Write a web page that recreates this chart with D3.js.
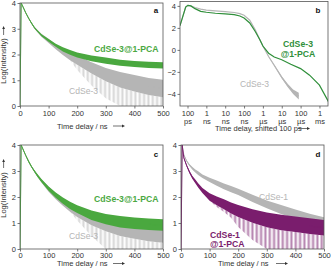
<!DOCTYPE html>
<html><head><meta charset="utf-8">
<script src="https://cdn.jsdelivr.net/npm/d3@7"></script>
<style>body{margin:0;background:#fff}svg{display:block}</style>
</head><body><svg id="c" width="331" height="272"></svg>
<script>
// ---------- DATA ----------
const linTicks = [0, 100, 200, 300, 400, 500];
const linYTicks = [0, 1, 2, 3, 4];
const logYTicks = [-4, -2, 0, 2, 4];
const logXTicks = [1e-10, 1e-9, 1e-8, 1e-7, 1e-6, 1e-5, 1e-4, 1e-3];
const logXLabels = [["100","ps"],["1","ns"],["10","ns"],["100","ns"],["1","µs"],["10","µs"],["100","µs"],["1","ms"]];

// time axis (ns) for panels a, c, d
const tNs = [0, 4, 10, 20, 30, 40, 50, 60, 75, 100, 125, 150, 175, 200, 250, 300, 350, 400, 450, 500];

// panel a
const aGreen      = [0, 4.0, 3.86, 3.62, 3.41, 3.22, 3.05, 2.92, 2.75, 2.55, 2.36, 2.2, 2.08, 1.98, 1.85, 1.76, 1.68, 1.63, 1.6, 1.58];
const aGreenNoise = [0, 0, 0.02, 0.02, 0.02, 0.03, 0.03, 0.03, 0.04, 0.05, 0.06, 0.08, 0.09, 0.1, 0.11, 0.12, 0.12, 0.12, 0.12, 0.12];
const aGray       = [0, 4.0, 3.86, 3.62, 3.41, 3.22, 3.05, 2.92, 2.75, 2.53, 2.3, 2.1, 1.93, 1.78, 1.48, 1.22, 1.02, 0.88, 0.76, 0.68];
const aGrayNoise  = [0, 0, 0.02, 0.02, 0.02, 0.03, 0.04, 0.05, 0.06, 0.08, 0.1, 0.12, 0.15, 0.18, 0.22, 0.26, 0.3, 0.32, 0.33, 0.34];
const aGrayFloor  = [0, 4.0, 3.84, 3.6, 3.39, 3.19, 3.01, 2.87, 2.69, 2.45, 2.2, 1.98, 1.78, 1.4, 0.8, 0.3, 0, 0, 0, 0];

// panel c
const cGreen      = [0, 4.0, 3.85, 3.6, 3.37, 3.17, 3.0, 2.84, 2.63, 2.32, 2.07, 1.86, 1.68, 1.53, 1.3, 1.15, 1.05, 0.99, 0.95, 0.92];
const cGreenNoise = [0, 0, 0.02, 0.02, 0.03, 0.03, 0.04, 0.05, 0.06, 0.08, 0.1, 0.12, 0.14, 0.15, 0.18, 0.2, 0.22, 0.22, 0.22, 0.22];
const cGray       = [0, 4.0, 3.85, 3.6, 3.37, 3.17, 3.0, 2.84, 2.62, 2.3, 2.03, 1.8, 1.6, 1.43, 1.15, 0.95, 0.8, 0.7, 0.62, 0.57];
const cGrayNoise  = [0, 0, 0.02, 0.02, 0.03, 0.03, 0.04, 0.05, 0.06, 0.1, 0.12, 0.14, 0.17, 0.2, 0.24, 0.27, 0.3, 0.31, 0.32, 0.33];
const cGrayFloor  = [0, 4.0, 3.83, 3.58, 3.34, 3.14, 2.96, 2.79, 2.56, 2.2, 1.91, 1.66, 1.43, 1.1, 0.5, 0, 0, 0, 0, 0];

// panel d
const dGray        = [0, 4.0, 3.62, 3.38, 3.22, 3.1, 3.0, 2.92, 2.8, 2.66, 2.53, 2.41, 2.3, 2.2, 1.95, 1.72, 1.52, 1.34, 1.17, 1.02];
const dGrayNoise   = [0, 0, 0.02, 0.03, 0.04, 0.05, 0.06, 0.07, 0.07, 0.08, 0.1, 0.11, 0.12, 0.12, 0.14, 0.15, 0.17, 0.18, 0.19, 0.2];
const dPurple      = [0, 4.0, 3.5, 3.2, 2.95, 2.75, 2.6, 2.45, 2.25, 2.0, 1.85, 1.72, 1.58, 1.46, 1.27, 1.12, 1.02, 0.95, 0.88, 0.82];
const dPurpleNoise = [0, 0, 0.03, 0.04, 0.05, 0.06, 0.07, 0.08, 0.1, 0.14, 0.17, 0.19, 0.21, 0.23, 0.26, 0.28, 0.3, 0.3, 0.3, 0.3];
const dPurpleFloor = [0, 4.0, 3.47, 3.16, 2.9, 2.69, 2.53, 2.37, 2.15, 1.86, 1.62, 1.42, 1.2, 0.85, 0.35, 0, 0, 0, 0, 0];

// panel b (time in s, shifted 100 ps)
const bGreenT = [4e-11, 8e-11, 1.05e-10, 1.5e-10, 2.5e-10, 5e-10, 1e-9, 3e-9, 1e-8, 3e-8, 6e-8, 1e-7, 2e-7, 4e-7, 7e-7, 1e-6, 2e-6, 4e-6, 1e-5, 3e-5, 1e-4, 3e-4, 1e-3, 3e-3];
const bGreen  = [2.2, 3.9, 4.05, 4.0, 3.75, 3.5, 3.42, 3.33, 3.28, 3.2, 3.08, 2.9, 2.45, 1.65, 0.9, 0.35, -0.3, -0.65, -0.9, -1.3, -1.7, -2.3, -3.2, -4.7];
const bGrayT  = [4e-11, 8e-11, 1.05e-10, 1.5e-10, 2.5e-10, 5e-10, 1e-9, 3e-9, 1e-8, 3e-8, 6e-8, 1e-7, 2e-7, 4e-7, 7e-7, 1e-6, 2e-6, 4e-6, 1e-5, 2e-5, 4e-5, 8e-5];
const bGray   = [2.2, 3.9, 4.05, 4.0, 3.85, 3.7, 3.62, 3.55, 3.48, 3.4, 3.3, 3.15, 2.7, 1.8, 0.9, 0.35, -0.6, -1.4, -2.5, -3.2, -3.8, -4.2];
const bGrayNoise = [0, 0, 0, 0, 0, 0, 0, 0, 0, 0, 0, 0, 0, 0, 0, 0, 0.02, 0.05, 0.1, 0.15, 0.2, 0.3];

// ---------- DRAWING ----------
const FONT = '"Liberation Sans", Arial, Helvetica, sans-serif';
const AX = '#555', TXT = '#333';
const GREEN = '#4aa83f', GREEN_B = '#2f8f3a', GRAY = '#b5b5b5', PURPLE = '#7a1d6d';
const svg = d3.select('#c');
const defs = svg.append('defs');
let clipN = 0;

// fine vertical-stripe fills to render the sparse noise spikes
function stripes(color) {
  const id = 'st' + color.slice(1);
  if (defs.select('#' + id).empty()) {
    const p = defs.append('pattern').attr('id', id).attr('patternUnits', 'userSpaceOnUse')
      .attr('width', 1.3).attr('height', 4);
    p.append('rect').attr('x', 0).attr('y', 0).attr('width', 0.6).attr('height', 4).attr('fill', color);
  }
  return `url(#${id})`;
}

function rows(t, m, n, f) { return t.map((v, i) => ({t: v, m: m[i], n: n ? n[i] : 0, f: f ? f[i] : null})); }

function trace(g, x, y, data, color, lw) {
  if (data[0].f !== null) {
    g.append('path').datum(data)
      .attr('d', d3.area().x(d => x(d.t)).y0(d => y(d.f)).y1(d => y(d.m - d.n)))
      .attr('fill', stripes(color)).attr('opacity', 0.6);
  }
  g.append('path').datum(data)
    .attr('d', d3.area().x(d => x(d.t)).y0(d => y(d.m - d.n)).y1(d => y(d.m + d.n)))
    .attr('fill', color);
  g.append('path').datum(data)
    .attr('d', d3.line().x(d => x(d.t)).y(d => y(d.m)))
    .attr('fill', 'none').attr('stroke', color).attr('stroke-width', lw || 1);
}

function styleAxis(sel) {
  sel.select('.domain').remove();
  sel.selectAll('.tick line').attr('stroke', AX).attr('stroke-width', 0.8);
  sel.selectAll('.tick text').attr('font-family', FONT).attr('font-size', 7.5).attr('fill', TXT);
}

function label(txt, x, yb, color, size, weight, anchor) {
  svg.append('text').attr('x', x).attr('y', yb).text(txt)
    .attr('font-family', FONT).attr('font-size', size).attr('font-weight', weight || 'normal')
    .attr('fill', color).attr('text-anchor', anchor || 'start');
}

function arrowRight(x, y, len) {
  svg.append('path').attr('d', `M${x},${y}H${x+len-2}`).attr('stroke', TXT).attr('stroke-width', 0.7);
  svg.append('path').attr('d', `M${x+len},${y}L${x+len-3},${y-1.4}L${x+len-3},${y+1.4}Z`).attr('fill', TXT);
}
function arrowUp(x, y, len) {
  svg.append('path').attr('d', `M${x},${y}V${y-len+2}`).attr('stroke', TXT).attr('stroke-width', 0.7);
  svg.append('path').attr('d', `M${x},${y-len}L${x-1.4},${y-len+3}L${x+1.4},${y-len+3}Z`).attr('fill', TXT);
}

function clip(x0, y0, x1, y1) {
  const id = 'cl' + (clipN++);
  svg.append('clipPath').attr('id', id).append('rect').attr('x', x0).attr('y', y0).attr('width', x1 - x0).attr('height', y1 - y0);
  return svg.append('g').attr('clip-path', `url(#${id})`);
}

function frame(x0, y0, x1, y1) {
  svg.append('rect').attr('x', x0).attr('y', y0).attr('width', x1 - x0).attr('height', y1 - y0)
    .attr('fill', 'none').attr('stroke', AX).attr('stroke-width', 0.8);
}

function linPanel(p) {
  const x = d3.scaleLinear().domain([0, 500]).range([p.x0, p.x1]);
  const y = d3.scaleLinear().domain([0, 4]).range([p.yb, p.yt]);
  const g = clip(p.x0, p.yt, p.x1, p.yb);
  p.traces.forEach(tr => trace(g, x, y, tr.data, tr.color, 1));
  styleAxis(svg.append('g').attr('transform', `translate(0,${p.yb})`)
    .call(d3.axisBottom(x).tickValues(linTicks).tickSize(2.5).tickPadding(p.xpad)));
  styleAxis(svg.append('g').attr('transform', `translate(${p.x0},0)`)
    .call(d3.axisLeft(y).tickValues(linYTicks).tickFormat(d3.format('d')).tickSize(2.5).tickPadding(1.5)));
  frame(p.x0, p.yt, p.x1, p.yb);
  return {x, y};
}

// panel a
linPanel({x0: 20, x1: 163, yt: 3, yb: 106, xpad: 2.5, traces: [
  {data: rows(tNs, aGray, aGrayNoise, aGrayFloor), color: GRAY},
  {data: rows(tNs, aGreen, aGreenNoise), color: GREEN}
]});
label('CdSe-3@1-PCA', 94, 51.5, GREEN, 8.7, 'bold');
label('CdSe-3', 69, 93.5, GRAY, 8.6);
label('a', 156, 12.5, '#111', 8, 'bold', 'middle');
label('Time delay / ns', 57, 128.5, TXT, 7.5);
arrowRight(113, 126, 12);
svg.append('text').attr('transform', 'translate(6,61) rotate(-90)').attr('text-anchor', 'middle')
  .attr('font-family', FONT).attr('font-size', 7.5).attr('fill', TXT).text('Log(Intensity)');
arrowUp(3.6, 35, 9);

// panel c
linPanel({x0: 20, x1: 163, yt: 145, yb: 249, xpad: 0.7, traces: [
  {data: rows(tNs, cGray, cGrayNoise, cGrayFloor), color: GRAY},
  {data: rows(tNs, cGreen, cGreenNoise), color: GREEN}
]});
label('CdSe-3@1-PCA', 94, 202, GREEN, 8.7, 'bold');
label('CdSe-3', 69, 238.5, GRAY, 8.6);
label('c', 156, 156.5, '#111', 8, 'bold', 'middle');
label('Time delay / ns', 57, 266, TXT, 7.5);
arrowRight(113, 263.5, 12);
svg.append('text').attr('transform', 'translate(6,195) rotate(-90)').attr('text-anchor', 'middle')
  .attr('font-family', FONT).attr('font-size', 7.5).attr('fill', TXT).text('Log(Intensity)');
arrowUp(3.6, 168, 9);

// panel d
linPanel({x0: 181, x1: 324, yt: 145, yb: 249, xpad: 0.7, traces: [
  {data: rows(tNs, dGray, dGrayNoise), color: GRAY},
  {data: rows(tNs, dPurple, dPurpleNoise, dPurpleFloor), color: PURPLE}
]});
label('CdSe-1', 259, 199.5, GRAY, 8.6);
label('CdSe-1', 210, 238, PURPLE, 8.7, 'bold');
label('@1-PCA', 210, 246.5, PURPLE, 8.7, 'bold');
label('d', 318, 157, '#111', 8, 'bold', 'middle');
label('Time delay / ns', 218, 266, TXT, 7.5);
arrowRight(276, 263.5, 12);

// panel b
(function () {
  const x0 = 180, x1 = 328, yt = 1.5, yb = 106;
  const x = d3.scaleLog().domain([4e-11, 2.84e-3]).range([x0, x1]);
  const y = d3.scaleLinear().domain([-5.1, 4.4]).range([yb, yt]);
  const g = clip(x0, yt, x1, yb);
  trace(g, x, y, rows(bGrayT, bGray, bGrayNoise, null), GRAY, 1.2);
  trace(g, x, y, rows(bGreenT, bGreen, null, null), GREEN_B, 1.2);
  const ax = svg.append('g').attr('transform', `translate(0,${yb})`)
    .call(d3.axisBottom(x).tickValues(logXTicks).tickFormat(() => '').tickSize(2.5));
  styleAxis(ax);
  ax.selectAll('.tick').each(function (d, i) {
    const t = d3.select(this).append('text').attr('fill', TXT).attr('font-family', FONT)
      .attr('font-size', 7.5).attr('text-anchor', 'middle');
    t.append('tspan').attr('x', 0).attr('y', 10).text(logXLabels[i][0]);
    t.append('tspan').attr('x', 0).attr('y', 17.5).text(logXLabels[i][1]);
  });
  styleAxis(svg.append('g').attr('transform', `translate(${x0},0)`)
    .call(d3.axisLeft(y).tickValues(logYTicks).tickFormat(d3.format('d')).tickSize(2.5).tickPadding(1.5)));
  frame(x0, yt, x1, yb);
})();
label('CdSe-3', 240, 87, GRAY, 8.6);
label('CdSe-3', 298, 47, GREEN_B, 8.7, 'bold', 'middle');
label('@1-PCA', 298, 57, GREEN_B, 8.7, 'bold', 'middle');
label('b', 318, 13, '#111', 8, 'bold', 'middle');
label('Time delay, shifted 100 ps', 215, 131, TXT, 7.5);
arrowRight(298, 128.5, 12);
</script></body></html>
